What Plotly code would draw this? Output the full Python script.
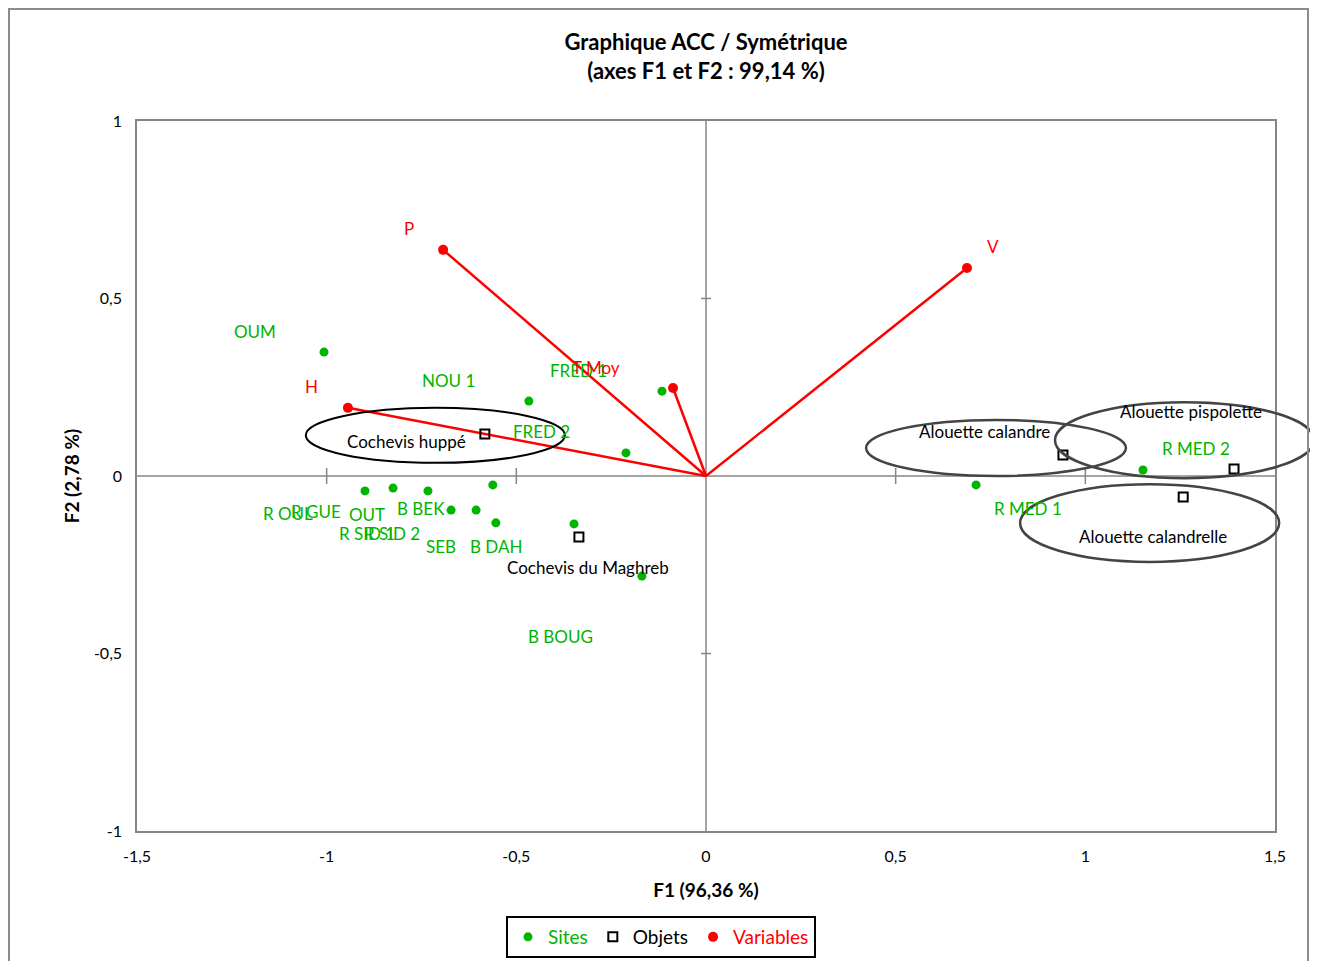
import plotly.graph_objects as go

# ---------------- data ----------------
site_names = ["OUM", "NOU 1", "FRED 1", "FRED 2", "R OUL", "R GUE", "OUT", "B BEK",
              "R SID 1", "R SID 2", "SEB", "B DAH", "B BOUG", "R MED 1", "R MED 2"]
site_f1 = [-1.007, -0.467, -0.116, -0.211, -0.899, -0.825, -0.733, -0.562,
           -0.672, -0.606, -0.554, -0.348, -0.169, 0.712, 1.152]
site_f2 = [0.349, 0.211, 0.239, 0.065, -0.042, -0.034, -0.042, -0.025,
           -0.096, -0.096, -0.132, -0.135, -0.282, -0.025, 0.017]

obj_names = ["Cochevis huppé", "Cochevis du Maghreb", "Alouette calandre",
             "Alouette pispolette", "Alouette calandrelle"]
obj_f1 = [-0.583, -0.335, 0.941, 1.392, 1.258]
obj_f2 = [0.118, -0.172, 0.059, 0.020, -0.059]

var_names = ["P", "V", "H", "T Moy"]
var_f1 = [-0.693, 0.688, -0.944, -0.087]
var_f2 = [0.637, 0.586, 0.192, 0.248]

x_ticks = [-1.5, -1, -0.5, 0, 0.5, 1, 1.5]
x_tick_labels = ["-1,5", "-1", "-0,5", "0", "0,5", "1", "1,5"]
y_ticks = [-1, -0.5, 0, 0.5, 1]
y_tick_labels = ["-1", "-0,5", "0", "0,5", "1"]

# ---------------- styling ----------------
GREEN = "#00B400"
RED = "#FF0000"
GRAY = "#868686"
FONT = "Lato"
LBL = 17

# label pixel offsets (dx, dy) relative to the point, screen px (dy positive = down)
site_off = {
    "OUM": (-69, -21), "NOU 1": (-80, -21), "FRED 1": (-84, -21), "FRED 2": (-84, -21),
    "R OUL": (-77, 23), "R GUE": (-77, 23), "OUT": (-61, 24), "B BEK": (-72, 24),
    "R SID 1": (-84, 23), "R SID 2": (-84, 23), "SEB": (-55, 24), "B DAH": (-78, 23),
    "B BOUG": (-81, 60), "R MED 1": (52, 24), "R MED 2": (53, -21),
}
obj_off = {
    "Cochevis huppé": (-78, 7), "Cochevis du Maghreb": (9, 30),
    "Alouette calandre": (-78, -24), "Alouette pispolette": (-43, -57),
    "Alouette calandrelle": (-30, 40),
}
var_off = {"P": (-34, -21), "V": (26, -21), "H": (-36, -21), "T Moy": (-77, -20)}

# ellipses around objects (data units: center x, center y, rx, ry)
ellipses = [
    (-0.7135, 0.1145, 0.3415, 0.0775, "#000000", 2),
    (0.7645, 0.079, 0.3425, 0.079, "#444444", 2.5),
    (1.2615, 0.101, 0.3415, 0.107, "#444444", 2.5),
    (1.1695, -0.1325, 0.3415, 0.1095, "#444444", 2.5),
]

fig = go.Figure()

# variable vectors
vx, vy = [], []
for a, b in zip(var_f1, var_f2):
    vx += [0, a, None]
    vy += [0, b, None]
fig.add_trace(go.Scatter(x=vx, y=vy, mode="lines", line=dict(color=RED, width=2.5),
                         showlegend=False, hoverinfo="skip"))

fig.add_trace(go.Scatter(x=site_f1, y=site_f2, mode="markers", text=site_names,
                         marker=dict(color=GREEN, size=9),
                         name=f"<span style='color:{GREEN}'>Sites</span>"))
fig.add_trace(go.Scatter(x=obj_f1, y=obj_f2, mode="markers", text=obj_names,
                         marker=dict(symbol="square-open", color="black", size=9,
                                     line=dict(width=2)),
                         name="<span style='color:black'>Objets</span>"))
fig.add_trace(go.Scatter(x=var_f1, y=var_f2, mode="markers", text=var_names,
                         marker=dict(color=RED, size=10),
                         name=f"<span style='color:{RED}'>Variables</span>"))

ann = []
for n, a, b in zip(site_names, site_f1, site_f2):
    dx, dy = site_off[n]
    ann.append(dict(x=a, y=b, text=n, showarrow=False, xshift=dx, yshift=-dy,
                    font=dict(color=GREEN, size=LBL, family=FONT)))
for n, a, b in zip(obj_names, obj_f1, obj_f2):
    dx, dy = obj_off[n]
    ann.append(dict(x=a, y=b, text=n, showarrow=False, xshift=dx, yshift=-dy,
                    font=dict(color="black", size=LBL, family=FONT)))
for n, a, b in zip(var_names, var_f1, var_f2):
    dx, dy = var_off[n]
    ann.append(dict(x=a, y=b, text=n, showarrow=False, xshift=dx, yshift=-dy,
                    font=dict(color=RED, size=LBL, family=FONT)))

xr = (-1.5, 1.5)
yr = (-1, 1)
def px(x):
    return (x - xr[0]) / (xr[1] - xr[0])
def py(y):
    return (y - yr[0]) / (yr[1] - yr[0])

shapes = []
# zero lines
shapes.append(dict(type="line", xref="x", yref="y", x0=xr[0], x1=xr[1], y0=0, y1=0,
                   line=dict(color=GRAY, width=1.5), layer="below"))
shapes.append(dict(type="line", xref="x", yref="y", x0=0, x1=0, y0=yr[0], y1=yr[1],
                   line=dict(color=GRAY, width=1.5), layer="below"))
# tick marks on zero lines
for t in x_ticks:
    if t not in (0, -1.5, 1.5):
        shapes.append(dict(type="line", xref="x", yref="y", ysizemode="pixel", yanchor=0,
                           x0=t, x1=t, y0=-8, y1=8, line=dict(color=GRAY, width=1.5),
                           layer="below"))
for t in y_ticks:
    if t not in (0, -1, 1):
        shapes.append(dict(type="line", xref="x", yref="y", xsizemode="pixel", xanchor=0,
                           x0=-5, x1=5, y0=t, y1=t, line=dict(color=GRAY, width=1.5),
                           layer="below"))
# ellipses
for cx, cy, rx, ry, col, w in ellipses:
    shapes.append(dict(type="circle", xref="paper", yref="paper",
                   x0=px(cx - rx), x1=px(cx + rx), y0=py(cy - ry), y1=py(cy + ry),
                   line=dict(color=col, width=w)))

# page offset (browser body margin)
OFF = 8
# target screen positions of the plot area
L, R, T, B = 137, 1275, 121, 831
W, H = 1318 - 2 * OFF, 969 - 2 * OFF
pw, ph = R - L, B - T
# outer chart border (screen coords)
shapes.append(dict(type="rect", xref="paper", yref="paper",
                   x0=(OFF + 1 - L) / pw, x1=(OFF + W - 2 - L) / pw,
                   y0=(B - 990) / ph, y1=(B - (OFF + 1)) / ph,
                   line=dict(color="#8c8c8c", width=2)))

fig.update_layout(
    width=W, height=H,
    margin=dict(l=L - OFF, r=(OFF + W) - R, t=T - OFF, b=(OFF + H) - B, autoexpand=False),
    paper_bgcolor="white", plot_bgcolor="white",
    separators=", ",
    font=dict(family=FONT, size=16, color="black"),
    title=dict(text="<b>Graphique ACC / Symétrique</b><br><b>(axes F1 et F2 : 99,14 %)</b>",
               x=0.5, xanchor="center", xref="paper", y=1 - (50 - OFF) / H, yanchor="middle",
               font=dict(size=22, family=FONT, color="black")),
    xaxis=dict(range=list(xr), tickvals=x_ticks, ticktext=x_tick_labels,
               showgrid=False, zeroline=False,
               showline=True, mirror=True, linecolor=GRAY, linewidth=1.5,
               ticks="", ticklabelstandoff=10, tickfont=dict(size=16),
               title=dict(text="<b>F1 (96,36 %)</b>", font=dict(size=19), standoff=20)),
    yaxis=dict(range=list(yr), tickvals=y_ticks, ticktext=y_tick_labels,
               showgrid=False, zeroline=False,
               showline=True, mirror=True, linecolor=GRAY, linewidth=1.5,
               ticks="", ticklabelstandoff=10, tickfont=dict(size=16),
               title=dict(text="<b>F2 (2,78 %)</b>", font=dict(size=19), standoff=9)),
    legend=dict(orientation="h", x=(661 - L) / pw, xanchor="center",
                y=-(916 - B) / ph, yanchor="top",
                bordercolor="black", borderwidth=2, font=dict(size=19, family=FONT),
                itemwidth=30, tracegroupgap=0),
    annotations=ann,
    shapes=shapes,
    showlegend=True,
)

fig.write_html("out.html")
